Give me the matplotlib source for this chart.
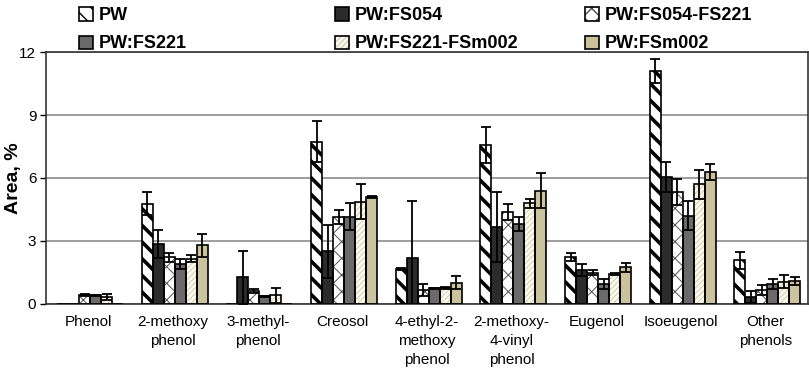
import numpy as np
import matplotlib
matplotlib.use("Agg")
import matplotlib.pyplot as plt
from matplotlib.legend_handler import HandlerTuple

plt.rcParams['font.family'] = ['Liberation Sans', 'DejaVu Sans']

categories = ["Phenol", "2-methoxy\nphenol", "3-methyl-\nphenol", "Creosol",
              "4-ethyl-2-\nmethoxy\nphenol", "2-methoxy-\n4-vinyl\nphenol",
              "Eugenol", "Isoeugenol", "Other\nphenols"]
series = ["PW", "PW:FS054", "PW:FS054-FS221", "PW:FS221", "PW:FS221-FSm002", "PW:FSm002"]

pw = [0, 4.76, 0, 7.74, 1.66, 7.56, 2.22, 11.1, 2.06]
pw_err = [0, 0.55, 0, 1.0, 0.05, 0.85, 0.2, 0.58, 0.4]
fs054 = [0, 2.83, 1.25, 2.49, 2.2, 3.67, 1.61, 6.04, 0.33]
fs054_err = [0, 0.67, 1.25, 1.25, 2.72, 1.68, 0.27, 0.72, 0.29]
fs054_fs221 = [0.4, 2.22, 0.6, 4.15, 0.65, 4.36, 1.48, 5.34, 0.65]
fs054_fs221_err = [0.05, 0.22, 0.08, 0.33, 0.27, 0.38, 0.13, 0.62, 0.24]
fs221 = [0.4, 1.9, 0.35, 4.15, 0.73, 3.8, 0.94, 4.2, 0.94]
fs221_err = [0.03, 0.25, 0.03, 0.65, 0.03, 0.34, 0.22, 0.69, 0.24]
fs221_fsm002 = [0.3, 2.15, 0.4, 4.87, 0.73, 4.79, 1.4, 5.69, 1.05]
fs221_fsm002_err = [0.15, 0.15, 0.35, 0.83, 0.05, 0.22, 0.05, 0.68, 0.32]
fsm002 = [0, 2.78, 0, 5.1, 1.0, 5.4, 1.74, 6.28, 1.1]
fsm002_err = [0, 0.55, 0, 0.05, 0.3, 0.85, 0.22, 0.38, 0.19]

values = [pw, fs054, fs054_fs221, fs221, fs221_fsm002, fsm002]
errors = [pw_err, fs054_err, fs054_fs221_err, fs221_err, fs221_fsm002_err, fsm002_err]

# face colour, hatch, hatch colour, hatch width
styles = [
    ("white", "\\\\", "black", 2.6),
    ("#2b2b2b", "", "#2b2b2b", 1.0),
    ("white", "xx", "#505050", 0.7),
    ("#6a6a6a", "", "#6a6a6a", 1.0),
    ("#fbfbf0", "//////", "#d6d2b4", 0.8),
    ("#cbc39d", "", "#cbc39d", 1.0),
]

fig = plt.figure(figsize=(8.09, 3.73), dpi=100)
ax = fig.add_axes([46 / 809, 1 - 303.6 / 373, 762 / 809, 251.3 / 373])

x = np.arange(len(categories))
w = 0.13
handles = []
for i, (vals, errs, (fc, hatch, hc, hlw)) in enumerate(zip(values, errors, styles)):
    pos = x + (i - 2.5) * w + 0.02
    vals = np.array(vals, dtype=float)
    errs = np.array(errs, dtype=float)
    filled = ax.bar(pos, vals, w, color=fc, hatch=hatch, edgecolor=hc, linewidth=0, zorder=2)
    for p in filled:
        if hasattr(p, "set_hatch_linewidth"):
            p.set_hatch_linewidth(hlw)
    outline = ax.bar(pos, vals, w, fill=False, edgecolor="black", linewidth=1.2, zorder=3)
    m = vals > 0
    ax.errorbar(pos[m], vals[m], yerr=errs[m], fmt="none", ecolor="black",
                elinewidth=1.3, capsize=3.5, capthick=1.3, zorder=4)
    handles.append((filled[1], outline[1]))

ax.set_xlim(-0.5, len(categories) - 0.5)
ax.set_ylim(0, 12)
ax.set_yticks([0, 3, 6, 9, 12])
ax.yaxis.grid(True, color="#8c8c8c", linewidth=1.2, zorder=0)
ax.set_axisbelow(True)
ax.set_xticks(x)
ax.set_xticklabels(categories, fontsize=11, linespacing=1.45, va="top")
ax.tick_params(axis="x", length=0, pad=8)
ax.tick_params(axis="y", labelsize=11, length=4, width=1, pad=3)
for s in ax.spines.values():
    s.set_color("#333333")
    s.set_linewidth(1.2)
ax.set_ylabel("Area, %", fontsize=14, fontweight="bold")
ax.yaxis.set_label_coords(-24 / 762, 0.5)

cols = [(0, 3), (1, 4), (2, 5)]
xs = [72, 328, 578]
for (a, b), xp in zip(cols, xs):
    fig.legend([handles[a], handles[b]], [series[a], series[b]],
               handler_map={tuple: HandlerTuple(ndivide=1)},
               loc="upper left", bbox_to_anchor=(xp / 809, 1.0), frameon=False,
               prop={"weight": "bold", "size": 13}, handlelength=0.75, handleheight=0.75,
               handletextpad=0.35, labelspacing=0.62, borderaxespad=0)

fig.savefig("out.png", dpi=100)
